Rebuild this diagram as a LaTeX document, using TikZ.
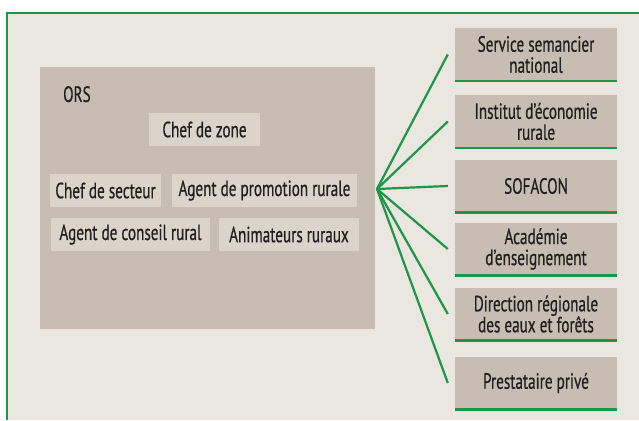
\documentclass[tikz,border=0pt]{standalone}
\usepackage{fontspec}
\setmainfont{PT Sans}[FakeStretch=0.69, FakeBold=0.6]
\usepackage{tikz}
\definecolor{paper}{RGB}{234,230,224}
\definecolor{taupe}{RGB}{200,189,178}
\definecolor{pale}{RGB}{220,212,202}
\definecolor{leaf}{RGB}{28,150,72}
\definecolor{ink}{RGB}{35,31,32}

\begin{document}
\begin{tikzpicture}[x=1pt, y=-1pt, every node/.style={font=\fontsize{22}{21}\selectfont, text=ink, inner sep=0pt},
	role/.style={fill=pale, minimum height=33pt},
	partner/.style={fill=taupe, minimum width=162pt, minimum height=53pt, align=center},
	fan/.style={leaf, line width=2.2pt}]
	\useasboundingbox (0,0) rectangle (639,420);
	\fill[paper] (7,13) rectangle (639,420);
	\draw[leaf, line width=1.5pt] (639,13) -- (7,13) -- (7,420);
	\node[fill=taupe, minimum width=335pt, minimum height=262pt] (ors) at (207.5,198) {};
	\node[anchor=north west] (orslabel) at (63,86) {ORS};
	\node[role, minimum width=111pt] (zone) at (204.5,129.5) {Chef de zone};
	\node[role, minimum width=111pt] (secteur) at (105.5,190.5) {Chef de secteur};
	\node[role, minimum width=185pt] (promo) at (264.5,190.5) {Agent de promotion rurale};
	\node[role, minimum width=159pt] (conseil) at (130.5,234.5) {Agent de conseil rural};
	\node[role, minimum width=140pt] (anim) at (289,234.5) {Animateurs ruraux};
	\coordinate (hub) at (377,189);
	\node[partner] (s1) at (536,54.5) {Service semancier\\national};
	\node[partner] (s2) at (536,121.5) {Institut d’économie\\rurale};
	\node[partner] (s3) at (536,186) {SOFACON};
	\node[partner] (s4) at (536,249) {Académie\\d’enseignement};
	\node[partner] (s5) at (536,314) {Direction régionale\\des eaux et forêts};
	\node[partner] (s6) at (536,383) {Prestataire privé};
	\foreach \n in {s1,s2,s3,s4,s5,s6} {
		\draw[leaf, line width=2.5pt] (\n.south west) -- (\n.south east);
		\draw[fan] (hub) -- ([xshift=-7pt]\n.west);
	}
\end{tikzpicture}
\end{document}
